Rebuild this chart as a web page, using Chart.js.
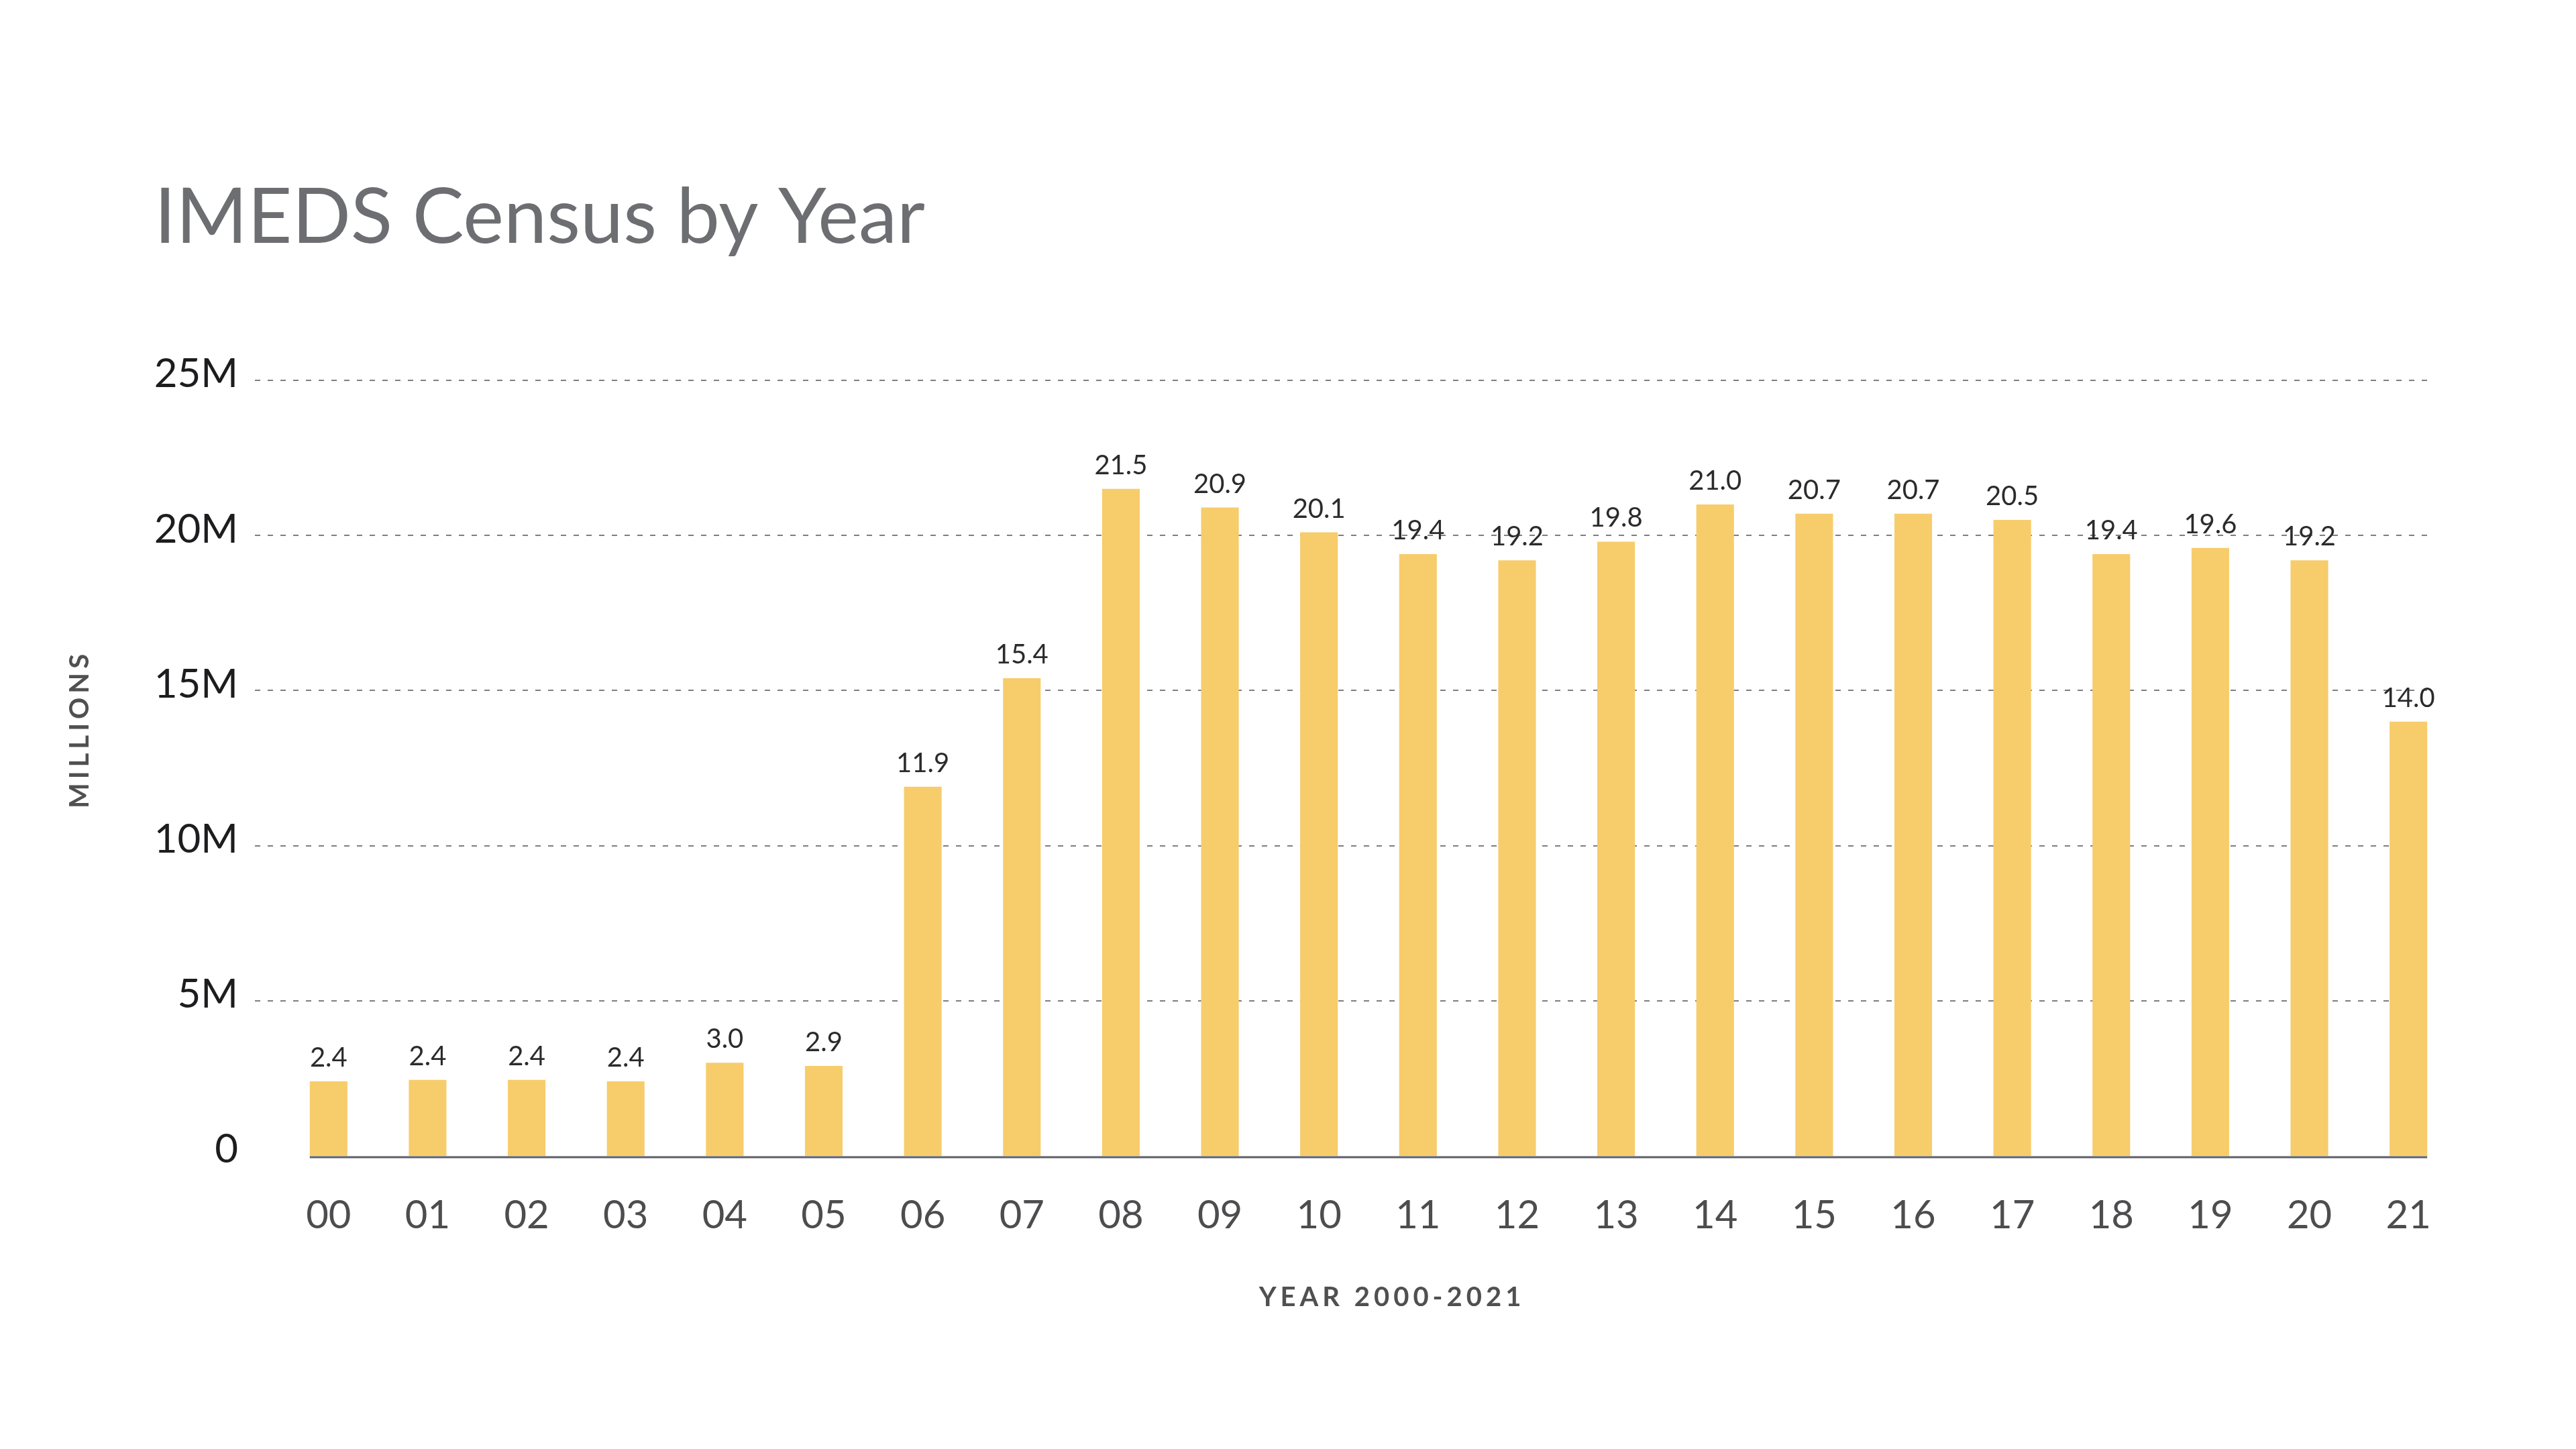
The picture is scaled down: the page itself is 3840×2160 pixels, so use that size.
<!DOCTYPE html>
<html>
<head>
<meta charset="utf-8">
<script src="https://cdn.jsdelivr.net/npm/chart.js@4"></script>
<style>
  html, body { margin: 0; padding: 0; background: #ffffff; }
  #wrap { width: 3840px; height: 2160px; position: relative; }
</style>
</head>
<body>
<div id="wrap"><canvas id="c"></canvas></div>
<script>
const years = ['00','01','02','03','04','05','06','07','08','09','10','11','12','13','14','15','16','17','18','19','20','21'];
const census = [2.4, 2.45, 2.45, 2.4, 3.0, 2.9, 11.9, 15.4, 21.5, 20.9, 20.1, 19.4, 19.2, 19.8, 21.0, 20.7, 20.7, 20.5, 19.4, 19.6, 19.2, 14.0];
const valueLabels = ['2.4','2.4','2.4','2.4','3.0','2.9','11.9','15.4','21.5','20.9','20.1','19.4','19.2','19.8','21.0','20.7','20.7','20.5','19.4','19.6','19.2','14.0'];
const yTicks = [0, 5, 10, 15, 20, 25];
const titleText = 'IMEDS Census by Year';
const xTitle = 'YEAR 2000-2021';
const yTitle = 'MILLIONS';

const FONT = 'Lato, "Open Sans", sans-serif';

const decor = {
  id: 'decor',
  beforeDatasetsDraw(chart) {
    const ctx = chart.ctx;
    const ys = chart.scales.y;
    const meta = chart.getDatasetMeta(0);
    const last = meta.data[meta.data.length - 1];
    const right = last.x + last.width / 2;
    const left = chart.chartArea.left - 36;
    ctx.save();
    ctx.strokeStyle = '#7d7e82';
    ctx.lineWidth = 2;
    ctx.setLineDash([8, 11]);
    yTicks.forEach(v => {
      if (v === 0) return;
      const y = Math.round(ys.getPixelForValue(v));
      ctx.beginPath();
      ctx.moveTo(left, y);
      ctx.lineTo(right, y);
      ctx.stroke();
    });
    ctx.restore();
  },
  afterDatasetsDraw(chart) {
    const ctx = chart.ctx;
    const ys = chart.scales.y;
    const meta = chart.getDatasetMeta(0);
    const first = meta.data[0];
    const last = meta.data[meta.data.length - 1];
    ctx.save();
    ctx.strokeStyle = '#5f6066';
    ctx.lineWidth = 3;
    const y0 = ys.getPixelForValue(0) + 2;
    ctx.beginPath();
    ctx.moveTo(first.x - first.width / 2, y0);
    ctx.lineTo(last.x + last.width / 2, y0);
    ctx.stroke();
    ctx.fillStyle = '#2b2b2d';
    ctx.font = '400 40px ' + FONT;
    ctx.textAlign = 'center';
    ctx.textBaseline = 'alphabetic';
    meta.data.forEach((el, i) => {
      ctx.fillText(valueLabels[i], el.x, el.y - 22);
    });
    ctx.restore();
  },
  afterDraw(chart) {
    const ctx = chart.ctx;
    ctx.save();
    ctx.fillStyle = '#505052';
    ctx.font = '700 40px ' + FONT;
    try { ctx.letterSpacing = '6px'; } catch (e) {}
    ctx.textAlign = 'center';
    ctx.textBaseline = 'alphabetic';
    ctx.fillText(xTitle, 2075, 1947);
    ctx.translate(132, 1090);
    ctx.rotate(-Math.PI / 2);
    ctx.fillText(yTitle, 3, 0);
    ctx.restore();
  }
};

new Chart(document.getElementById('c'), {
  type: 'bar',
  data: {
    labels: years,
    datasets: [{
      data: census,
      backgroundColor: '#f7cc6b',
      borderWidth: 0,
      barPercentage: 0.38,
      categoryPercentage: 1.0
    }]
  },
  options: {
    responsive: true,
    maintainAspectRatio: false,
    devicePixelRatio: 1,
    animation: false,
    layout: { padding: { left: 230, right: 176, top: 0, bottom: 0 } },
    plugins: {
      legend: { display: false },
      tooltip: { enabled: false },
      title: {
        display: true,
        text: titleText,
        align: 'start',
        color: '#6d6e71',
        font: { family: FONT, size: 115, weight: '400', lineHeight: 1.2 },
        padding: { top: 256, bottom: 173 }
      }
    },
    scales: {
      x: {
        type: 'category',
        offset: true,
        grid: { display: false, drawTicks: false },
        border: { display: false },
        ticks: {
          color: '#4d4d4f',
          font: { family: FONT, size: 58, weight: '400' },
          padding: 54,
          maxRotation: 0,
          autoSkip: false
        },
        afterFit(scale) { scale.height = 437; }
      },
      y: {
        min: 0,
        max: 25,
        grid: { display: false, drawTicks: false },
        border: { display: false },
        afterBuildTicks(scale) { scale.ticks = yTicks.map(v => ({ value: v })); },
        ticks: {
          color: '#1d1d1f',
          font: { family: FONT, size: 60, weight: '400' },
          padding: 61,
          labelOffset: -9,
          callback: (v) => v === 0 ? '0' : v + 'M'
        },
        afterFit(scale) { scale.width = 186; }
      }
    }
  },
  plugins: [decor]
});
</script>
</body>
</html>
